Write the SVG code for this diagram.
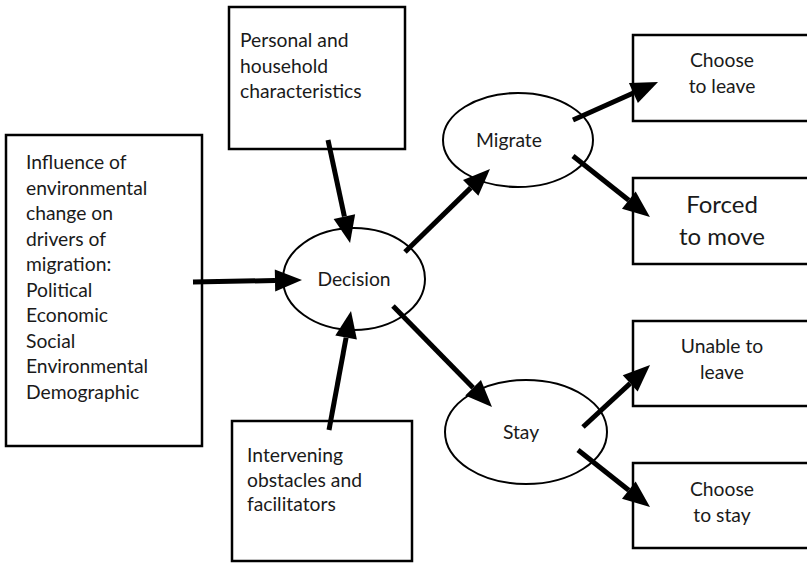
<svg xmlns="http://www.w3.org/2000/svg" width="807" height="563" viewBox="0 0 807 563">
<style>
.box{fill:#fff;stroke:#000;stroke-width:2.5}
.ell{fill:#fff;stroke:#000;stroke-width:2}
.t{font-family:Lato,"Open Sans","Liberation Sans",sans-serif;font-size:19.3px;fill:#1a1a1a}
.c{text-anchor:middle}
.big{font-size:24px}
.arr{stroke:#000;stroke-width:5;fill:none;marker-end:url(#ah)}
</style>
<defs>
<marker id="ah" markerUnits="userSpaceOnUse" markerWidth="30" markerHeight="24" refX="0" refY="12" orient="auto" overflow="visible">
<path d="M0,1 L27,12 L0,23 z" fill="#000"/>
</marker>
</defs>
<rect width="807" height="563" fill="#fff"/>
<g id="drivers">
<rect class="box" x="6" y="135" width="196" height="311"/>
<text class="t" x="26">
<tspan x="26" y="169">Influence of</tspan>
<tspan x="26" y="194.5">environmental</tspan>
<tspan x="26" y="220">change on</tspan>
<tspan x="26" y="245.5">drivers of</tspan>
<tspan x="26" y="271">migration:</tspan>
<tspan x="26" y="296.5">Political</tspan>
<tspan x="26" y="322">Economic</tspan>
<tspan x="26" y="347.5">Social</tspan>
<tspan x="26" y="373">Environmental</tspan>
<tspan x="26" y="398.5">Demographic</tspan>
</text>
</g>
<g id="personal">
<rect class="box" x="229" y="7" width="176" height="142"/>
<text class="t"><tspan x="240" y="47">Personal and</tspan><tspan x="240" y="72.5">household</tspan><tspan x="240" y="98">characteristics</tspan></text>
</g>
<g id="intervening">
<rect class="box" x="232" y="421" width="180" height="140"/>
<text class="t"><tspan x="247" y="462">Intervening</tspan><tspan x="247" y="486.5">obstacles and</tspan><tspan x="247" y="511">facilitators</tspan></text>
</g>
<g id="decision">
<ellipse class="ell" cx="354" cy="279" rx="71" ry="51"/>
<text class="t c" x="354" y="286">Decision</text>
</g>
<g id="migrate">
<ellipse class="ell" cx="518" cy="140" rx="75" ry="47"/>
<text class="t c" x="509" y="147">Migrate</text>
</g>
<g id="stay">
<ellipse class="ell" cx="526" cy="432" rx="81" ry="52"/>
<text class="t c" x="521" y="439">Stay</text>
</g>
<g id="choose-leave">
<rect class="box" x="633" y="35" width="180" height="86"/>
<text class="t c"><tspan x="722" y="67">Choose</tspan><tspan x="722" y="93">to leave</tspan></text>
</g>
<g id="forced">
<rect class="box" x="633" y="178" width="180" height="86"/>
<text class="t c big"><tspan x="722" y="213">Forced</tspan><tspan x="722" y="245">to move</tspan></text>
</g>
<g id="unable">
<rect class="box" x="633" y="321" width="180" height="85"/>
<text class="t c"><tspan x="722" y="353">Unable to</tspan><tspan x="722" y="379">leave</tspan></text>
</g>
<g id="choose-stay">
<rect class="box" x="633" y="463" width="180" height="85"/>
<text class="t c"><tspan x="722" y="496">Choose</tspan><tspan x="722" y="522">to stay</tspan></text>
</g>
<g id="connectors">
<line class="arr" x1="193" y1="282" x2="275" y2="280.5"/>
<line class="arr" x1="328" y1="140" x2="344.4" y2="216.6"/>
<line class="arr" x1="329" y1="430" x2="346.1" y2="337.6"/>
<line class="arr" x1="405" y1="252" x2="470.7" y2="187.9"/>
<line class="arr" x1="393" y1="306" x2="473.1" y2="387.7"/>
<line class="arr" x1="573" y1="120" x2="633.4" y2="93"/>
<line class="arr" x1="573" y1="156" x2="628.8" y2="200.2"/>
<line class="arr" x1="583" y1="427" x2="630.2" y2="383.4"/>
<line class="arr" x1="578" y1="450" x2="628.8" y2="490.2"/>
</g>
</svg>
